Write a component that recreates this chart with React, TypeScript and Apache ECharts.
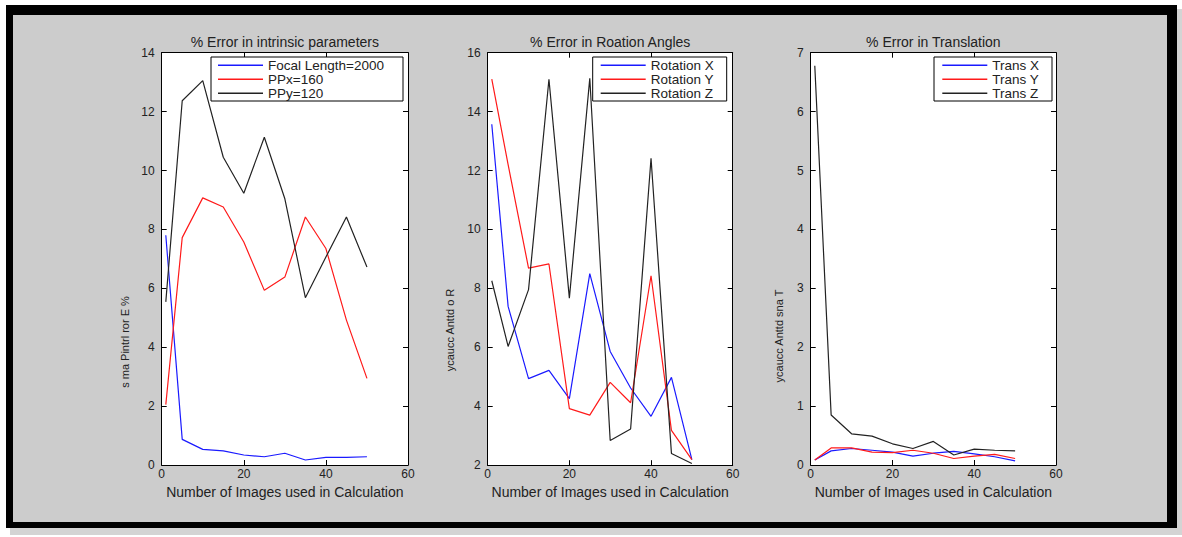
import React, { useEffect, useRef } from "react";
import * as echarts from "echarts";

const imagesUsed = [1, 5, 10, 15, 20, 25, 30, 35, 40, 45, 50];

const focalLength = [7.8, 0.87, 0.53, 0.48, 0.34, 0.28, 0.4, 0.17, 0.26, 0.26, 0.28];
const ppx = [2.05, 7.72, 9.07, 8.76, 7.57, 5.93, 6.38, 8.42, 7.35, 4.92, 2.94];
const ppy = [5.54, 12.37, 13.05, 10.45, 9.23, 11.13, 9.04, 5.68, 7.06, 8.42, 6.72];

const rotX = [13.57, 7.39, 4.94, 5.22, 4.26, 8.5, 5.86, 4.62, 3.66, 4.98, 2.19];
const rotY = [15.1, 12.2, 8.69, 8.83, 3.92, 3.7, 4.81, 4.12, 8.43, 3.18, 2.19];
const rotZ = [8.26, 6.03, 7.96, 15.1, 7.67, 15.13, 2.84, 3.23, 12.42, 2.4, 2.06];

const transX = [0.085, 0.24, 0.28, 0.25, 0.22, 0.15, 0.2, 0.23, 0.19, 0.14, 0.07];
const transY = [0.085, 0.29, 0.29, 0.22, 0.21, 0.25, 0.2, 0.11, 0.15, 0.18, 0.11];
const transZ = [6.78, 0.85, 0.53, 0.49, 0.36, 0.28, 0.4, 0.17, 0.27, 0.25, 0.24];

const titles = [
  "% Error in intrinsic parameters",
  "% Error in Roation Angles",
  "% Error in Translation",
];
const yLabels = ["s ma Pintrl ror E %", "ycaucc Anttd o R", "ycaucc Anttd sna T"];
const xLabel = "Number of Images used in Calculation";

const panelSeries = [
  [
    { name: "Focal Length=2000", values: focalLength, color: "#1a1aff" },
    { name: "PPx=160", values: ppx, color: "#ff1a1a" },
    { name: "PPy=120", values: ppy, color: "#222222" },
  ],
  [
    { name: "Rotation X", values: rotX, color: "#1a1aff" },
    { name: "Rotation Y", values: rotY, color: "#ff1a1a" },
    { name: "Rotation Z", values: rotZ, color: "#222222" },
  ],
  [
    { name: "Trans X", values: transX, color: "#1a1aff" },
    { name: "Trans Y", values: transY, color: "#ff1a1a" },
    { name: "Trans Z", values: transZ, color: "#222222" },
  ],
];

const yRanges = [
  { min: 0, max: 14, interval: 2 },
  { min: 2, max: 16, interval: 2 },
  { min: 0, max: 7, interval: 1 },
];

// layout (pixels)
const grids = [
  { left: 161.7, top: 52.7, width: 246.3, height: 412.3 },
  { left: 487.7, top: 52.7, width: 245, height: 412.5 },
  { left: 810.7, top: 52.7, width: 245.3, height: 412.3 },
];
const legendBoxes = [
  { x: 211, y: 57, w: 192, h: 44, iconLeft: 218 },
  { x: 592.7, y: 57, w: 134, h: 44, iconLeft: 600.7 },
  { x: 934, y: 57, w: 118, h: 44, iconLeft: 942.3 },
];
const yLabelPos = [
  { x: 125, y: 342 },
  { x: 450, y: 330 },
  { x: 779, y: 336 },
];

const FONT = "Liberation Sans, Arial, sans-serif";

export default function App() {
  const ref = useRef<HTMLDivElement>(null);

  useEffect(() => {
    if (!ref.current) return;
    const chart = echarts.init(ref.current, null, { renderer: "svg" });

    const xAxes: any[] = [];
    const yAxes: any[] = [];
    const series: any[] = [];
    const legends: any[] = [];
    const graphics: any[] = [];

    grids.forEach((g, i) => {
      const tick = { show: true, inside: true, length: 5, lineStyle: { color: "#000" } };
      const axisLine = { show: true, onZero: false, lineStyle: { color: "#000", width: 1 } };
      xAxes.push({
        type: "value",
        gridIndex: i,
        position: "bottom",
        min: 0,
        max: 60,
        interval: 20,
        axisLine,
        axisTick: tick,
        splitLine: { show: false },
        axisLabel: { color: "#222", fontSize: 12, fontFamily: FONT, margin: 3 },
        name: xLabel,
        nameLocation: "middle",
        nameGap: 18,
        nameTextStyle: { color: "#222", fontSize: 14, fontFamily: FONT },
      });
      xAxes.push({
        type: "value",
        gridIndex: i,
        position: "top",
        min: 0,
        max: 60,
        interval: 20,
        axisLine,
        axisTick: tick,
        splitLine: { show: false },
        axisLabel: { show: false },
      });
      const yr = yRanges[i];
      yAxes.push({
        type: "value",
        gridIndex: i,
        position: "left",
        min: yr.min,
        max: yr.max,
        interval: yr.interval,
        axisLine,
        axisTick: tick,
        splitLine: { show: false },
        axisLabel: { color: "#222", fontSize: 12, fontFamily: FONT, margin: 7 },
      });
      yAxes.push({
        type: "value",
        gridIndex: i,
        position: "right",
        min: yr.min,
        max: yr.max,
        interval: yr.interval,
        axisLine,
        axisTick: tick,
        splitLine: { show: false },
        axisLabel: { show: false },
      });

      panelSeries[i].forEach((s) => {
        series.push({
          type: "line",
          name: s.name,
          xAxisIndex: 2 * i,
          yAxisIndex: 2 * i,
          data: imagesUsed.map((x, k) => [x, s.values[k]]),
          symbol: "none",
          showSymbol: false,
          color: s.color,
          lineStyle: { color: s.color, width: 1.2 },
          z: 3,
        });
      });

      const lb = legendBoxes[i];
      legends.push({
        data: panelSeries[i].map((s) => s.name),
        orient: "vertical",
        left: lb.iconLeft,
        top: 58.25,
        padding: 0,
        itemGap: 0,
        itemWidth: 45,
        itemHeight: 1.4,
        icon: "rect",
        selectedMode: false,
        z: 20,
        textStyle: { color: "#222", fontSize: 13.5, fontFamily: FONT, lineHeight: 13.5 },
      });
      graphics.push({
        type: "rect",
        z: 10,
        shape: { x: lb.x, y: lb.y, width: lb.w, height: lb.h },
        style: { fill: "#fff", stroke: "#000", lineWidth: 1 },
      });
      graphics.push({
        type: "text",
        z: 10,
        x: g.left + g.width / 2,
        y: 42,
        style: {
          text: titles[i],
          fill: "#222",
          fontSize: 14,
          fontFamily: FONT,
          textAlign: "center",
          textVerticalAlign: "middle",
        },
      });
      graphics.push({
        type: "text",
        z: 10,
        x: yLabelPos[i].x,
        y: yLabelPos[i].y,
        rotation: Math.PI / 2,
        style: {
          text: yLabels[i],
          fill: "#222",
          fontSize: 11,
          fontFamily: "Liberation Sans Narrow, " + FONT,
          textAlign: "center",
          textVerticalAlign: "middle",
        },
      });
    });

    chart.setOption({
      animation: false,
      grid: grids.map((g) => ({
        ...g,
        show: true,
        backgroundColor: "#fff",
        borderWidth: 0,
        containLabel: false,
      })),
      xAxis: xAxes,
      yAxis: yAxes,
      legend: legends,
      series,
      graphic: { elements: graphics },
    });

    return () => chart.dispose();
  }, []);

  return (
    <div
      style={{
        position: "absolute",
        left: 0,
        top: 0,
        width: 1182,
        height: 537,
        background: "#fff",
        overflow: "hidden",
      }}
    >
      <div style={{ position: "absolute", left: 10, top: 9, width: 1172, height: 526, background: "#d4d4d4" }} />
      <div style={{ position: "absolute", left: 6, top: 5, width: 1171, height: 523, background: "#000" }} />
      <div style={{ position: "absolute", left: 13, top: 15, width: 1154, height: 507, background: "#cccccc" }} />
      <div ref={ref} style={{ position: "absolute", left: 0, top: 0, width: 1182, height: 537 }} />
    </div>
  );
}
